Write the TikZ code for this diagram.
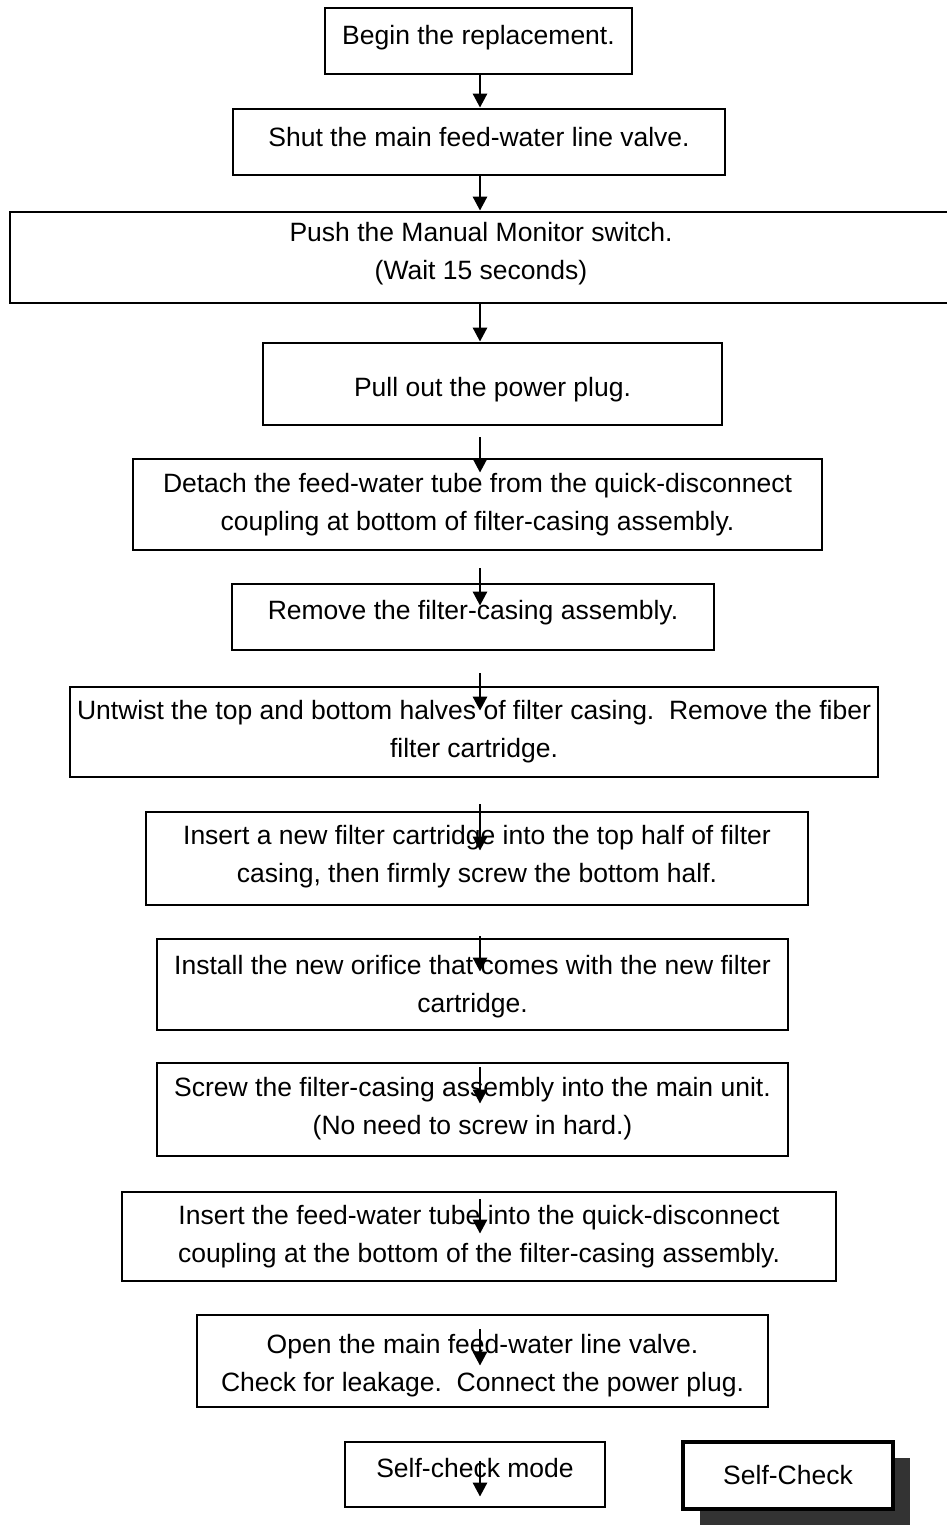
\documentclass[tikz,border=0pt]{standalone}
\usepackage{fontspec}
\setmainfont{Liberation Sans}
\usetikzlibrary{arrows.meta,calc,shadows}

% one process step: a box given by its corners (x1,y1)-(x2,y2), y downwards,
% and its text, set at the box centre moved down by dy
\newcommand\flowstep[8][]{%
  \node[stepbox,#1,minimum width={#5-#3},minimum height={#6-#4}]
    (#2) at ({(#3+#5)/2},{(#4+#6)/2}) {};
  \node[steptext] (#2-text) at ($(#2.center)+(0,#7)$) {#8};}

\begin{document}
\begin{tikzpicture}[x=1pt,y=-1pt,
  stepbox/.style={draw,line width=2.8pt,rectangle,inner sep=0pt,fill=white},
  steptext/.style={inner sep=0pt,align=center,font=\fontsize{26.5}{38}\selectfont},
  flow/.style={line width=2.8pt,-{Triangle[length=14pt,width=14pt]}},
  modebox/.style={line width=4.5pt,
    drop shadow={shadow xshift=17pt,shadow yshift=-16pt,fill=black!80,opacity=1}}]
\useasboundingbox (0,0) rectangle (947,1526);
\coordinate (axis) at (480,0);

\flowstep{b1}{325}{8}{632}{74}{-3}{Begin the replacement.}
\flowstep{b2}{233}{109}{725}{175}{-5}{Shut the main feed-water line valve.}
\flowstep{b3}{10}{212}{952}{303}{-4}{Push the Manual Monitor switch.\\(Wait 15 seconds)}
\flowstep{b4}{263}{343}{722}{425}{6}{Pull out the power plug.}
\flowstep{b5}{133}{459}{822}{550}{0}{Detach the feed-water tube from the quick-disconnect\\coupling at bottom of filter-casing assembly.}
\flowstep{b6}{232}{584}{714}{650}{-4}{Remove the filter-casing assembly.}
\flowstep{b7}{70}{687}{878}{777}{0}{Untwist the top and bottom halves of filter casing.\ \ Remove the fiber\\filter cartridge.}
\flowstep{b8}{146}{812}{808}{905}{-2}{Insert a new filter cartridge into the top half of filter\\casing, then firmly screw the bottom half.}
\flowstep{b9}{157}{939}{788}{1030}{2}{Install the new orifice that comes with the new filter\\cartridge.}
\flowstep{b10}{157}{1063}{788}{1156}{-1}{Screw the filter-casing assembly into the main unit.\\(No need to screw in hard.)}
\flowstep{b11}{122}{1192}{836}{1281}{0}{Insert the feed-water tube into the quick-disconnect\\coupling at the bottom of the filter-casing assembly.}
\flowstep{b12}{197}{1315}{768}{1407}{5}{Open the main feed-water line valve.\\Check for leakage.\ \ Connect the power plug.}
\flowstep{b13}{345}{1442}{605}{1507}{-6}{Self-check mode}
\flowstep[modebox]{sc}{683}{1442}{893}{1509}{0}{Self-Check}

% connectors between consecutive steps
\draw[flow] (b1.south -| axis) -- (b2.north -| axis);
\draw[flow] (b2.south -| axis) -- (b3.north -| axis);
\draw[flow] (b3.south -| axis) -- (b4.north -| axis);
\draw[flow] ($(b4.south -| axis)+(0,11)$) -- ($(b5.north -| axis)+(0,15)$);
\draw[flow] ($(b5.south -| axis)+(0,17)$) -- ($(b6.north -| axis)+(0,23)$);
\draw[flow] ($(b6.south -| axis)+(0,22)$) -- ($(b7.north -| axis)+(0,25)$);
\draw[flow] ($(b7.south -| axis)+(0,26)$) -- ($(b8.north -| axis)+(0,40)$);
\draw[flow] ($(b8.south -| axis)+(0,30)$) -- ($(b9.north -| axis)+(0,34)$);
\draw[flow] ($(b9.south -| axis)+(0,36)$) -- ($(b10.north -| axis)+(0,42)$);
\draw[flow] ($(b10.south -| axis)+(0,42)$) -- ($(b11.north -| axis)+(0,43)$);
\draw[flow] ($(b11.south -| axis)+(0,47)$) -- ($(b12.north -| axis)+(0,52)$);
\draw[flow] ($(b12.south -| axis)+(0,53)$) -- ($(b13.north -| axis)+(0,56)$);
\end{tikzpicture}
\end{document}
